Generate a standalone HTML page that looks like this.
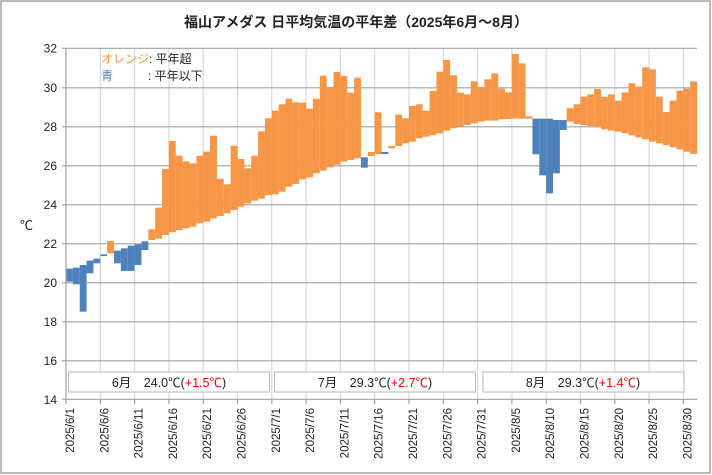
<!DOCTYPE html>
<html><head><meta charset="utf-8"><style>
html,body{margin:0;padding:0;background:#fff}
svg{display:block;font-family:"Liberation Sans","Noto Sans CJK JP",sans-serif}
</style></head><body>
<svg width="712" height="475" viewBox="0 0 712 475" xmlns="http://www.w3.org/2000/svg">
<rect x="1" y="1" width="709" height="472" fill="#fff" stroke="#8c8c8c" stroke-width="1.2"/>
<text x="356" y="27" text-anchor="middle" font-size="14" font-weight="bold" fill="#222">福山アメダス 日平均気温の平年差（2025年6月～8月）</text>
<g stroke="#d9d9d9" stroke-width="1.2">
<line x1="100.3" y1="48" x2="100.3" y2="399"/><line x1="134.6" y1="48" x2="134.6" y2="399"/><line x1="168.9" y1="48" x2="168.9" y2="399"/><line x1="203.2" y1="48" x2="203.2" y2="399"/><line x1="237.5" y1="48" x2="237.5" y2="399"/><line x1="271.8" y1="48" x2="271.8" y2="399"/><line x1="306.1" y1="48" x2="306.1" y2="399"/><line x1="340.4" y1="48" x2="340.4" y2="399"/><line x1="374.7" y1="48" x2="374.7" y2="399"/><line x1="409" y1="48" x2="409" y2="399"/><line x1="443.3" y1="48" x2="443.3" y2="399"/><line x1="477.6" y1="48" x2="477.6" y2="399"/><line x1="511.9" y1="48" x2="511.9" y2="399"/><line x1="546.2" y1="48" x2="546.2" y2="399"/><line x1="580.5" y1="48" x2="580.5" y2="399"/><line x1="614.8" y1="48" x2="614.8" y2="399"/><line x1="649.1" y1="48" x2="649.1" y2="399"/><line x1="683.4" y1="48" x2="683.4" y2="399"/>
</g>
<g stroke="#a0a0a0" stroke-width="1.2">
<line x1="62" y1="48.3" x2="697" y2="48.3"/><line x1="62" y1="87.8" x2="697" y2="87.8"/><line x1="62" y1="126.8" x2="697" y2="126.8"/><line x1="62" y1="165.8" x2="697" y2="165.8"/><line x1="62" y1="204.8" x2="697" y2="204.8"/><line x1="62" y1="243.8" x2="697" y2="243.8"/><line x1="62" y1="282.8" x2="697" y2="282.8"/><line x1="62" y1="321.8" x2="697" y2="321.8"/><line x1="62" y1="360.8" x2="697" y2="360.8"/>
</g>
<g transform="translate(66,40) scale(0.3333)">
<g fill="#4F81BD">
<rect x="0" y="686" width="20.6" height="39"/><rect x="20.58" y="683" width="20.6" height="50"/><rect x="41.16" y="675" width="20.6" height="140"/><rect x="61.74" y="662" width="20.6" height="38"/><rect x="82.32" y="656" width="20.6" height="14"/><rect x="102.9" y="643" width="20.6" height="5"/>
<rect x="144.06" y="632" width="20.6" height="38"/><rect x="164.64" y="625" width="20.6" height="68"/><rect x="185.22" y="617" width="20.6" height="76"/><rect x="205.8" y="613" width="20.6" height="62"/><rect x="226.38" y="604" width="20.6" height="26"/>
<rect x="884.94" y="352" width="20.6" height="31"/><rect x="946.68" y="336" width="20.6" height="6"/>
<rect x="1399.44" y="236" width="20.6" height="107"/><rect x="1420.02" y="236" width="20.6" height="170"/><rect x="1440.6" y="236" width="20.6" height="224"/><rect x="1461.18" y="240" width="20.6" height="160"/><rect x="1481.76" y="240" width="20.6" height="30"/>
</g>
<g fill="#F79646">
<rect x="123.48" y="603" width="20.6" height="37"/>
<rect x="246.96" y="568" width="20.6" height="32"/><rect x="267.54" y="503" width="20.6" height="93"/><rect x="288.12" y="387" width="20.6" height="198"/><rect x="308.7" y="303" width="20.6" height="274"/><rect x="329.28" y="347" width="20.6" height="223"/><rect x="349.86" y="364" width="20.6" height="201"/><rect x="370.44" y="370" width="20.6" height="190"/><rect x="391.02" y="347" width="20.6" height="203"/><rect x="411.6" y="335" width="20.6" height="210"/><rect x="432.18" y="287" width="20.6" height="248"/><rect x="452.76" y="416" width="20.6" height="112"/><rect x="473.34" y="433" width="20.6" height="87"/><rect x="493.92" y="317" width="20.6" height="193"/><rect x="514.5" y="357" width="20.6" height="143"/><rect x="535.08" y="385" width="20.6" height="105"/><rect x="555.66" y="347" width="20.6" height="135"/><rect x="576.24" y="274" width="20.6" height="202"/><rect x="596.82" y="235" width="20.6" height="231"/><rect x="617.4" y="212" width="20.6" height="251"/><rect x="637.98" y="193" width="20.6" height="262"/><rect x="658.56" y="176" width="20.6" height="264"/><rect x="679.14" y="187" width="20.6" height="245"/><rect x="699.72" y="188" width="20.6" height="230"/><rect x="720.3" y="206" width="20.6" height="206"/><rect x="740.88" y="176" width="20.6" height="224"/><rect x="761.46" y="107" width="20.6" height="285"/><rect x="782.04" y="141" width="20.6" height="241"/><rect x="802.62" y="96" width="20.6" height="278"/><rect x="823.2" y="108" width="20.6" height="257"/><rect x="843.78" y="158" width="20.6" height="202"/><rect x="864.36" y="113" width="20.6" height="242"/>
<rect x="905.52" y="336" width="20.6" height="12"/><rect x="926.1" y="217" width="20.6" height="125"/><rect x="967.26" y="318" width="20.6" height="7"/><rect x="987.84" y="224" width="20.6" height="94"/><rect x="1008.42" y="235" width="20.6" height="75"/><rect x="1029" y="198" width="20.6" height="107"/><rect x="1049.58" y="193" width="20.6" height="102"/><rect x="1070.16" y="212" width="20.6" height="78"/><rect x="1090.74" y="153" width="20.6" height="132"/><rect x="1111.32" y="95" width="20.6" height="185"/><rect x="1131.9" y="60" width="20.6" height="212"/><rect x="1152.48" y="106" width="20.6" height="159"/><rect x="1173.06" y="158" width="20.6" height="102"/><rect x="1193.64" y="163" width="20.6" height="92"/><rect x="1214.22" y="124" width="20.6" height="126"/><rect x="1234.8" y="141" width="20.6" height="104"/><rect x="1255.38" y="118" width="20.6" height="124"/><rect x="1275.96" y="100" width="20.6" height="142"/><rect x="1296.54" y="146" width="20.6" height="92"/><rect x="1317.12" y="157" width="20.6" height="80"/><rect x="1337.7" y="42" width="20.6" height="194"/><rect x="1358.28" y="70" width="20.6" height="166"/><rect x="1378.86" y="229" width="20.6" height="7"/>
<rect x="1502.34" y="205" width="20.6" height="40"/><rect x="1522.92" y="193" width="20.6" height="59"/><rect x="1543.5" y="170" width="20.6" height="85"/><rect x="1564.08" y="163" width="20.6" height="95"/><rect x="1584.66" y="147" width="20.6" height="115"/><rect x="1605.24" y="170" width="20.6" height="98"/><rect x="1625.82" y="163" width="20.6" height="109"/><rect x="1646.4" y="182" width="20.6" height="93"/><rect x="1666.98" y="157" width="20.6" height="123"/><rect x="1687.56" y="130" width="20.6" height="156"/><rect x="1708.14" y="140" width="20.6" height="152"/><rect x="1728.72" y="82" width="20.6" height="216"/><rect x="1749.3" y="88" width="20.6" height="217"/><rect x="1769.88" y="170" width="20.6" height="140"/><rect x="1790.46" y="216" width="20.6" height="99"/><rect x="1811.04" y="182" width="20.6" height="140"/><rect x="1831.62" y="152" width="20.6" height="176"/><rect x="1852.2" y="146" width="20.6" height="189"/><rect x="1872.78" y="124" width="20.6" height="218"/>
</g>
</g>
<g stroke="#a0a0a0" stroke-width="1.2">
<line x1="66" y1="48" x2="66" y2="399.3"/>
<line x1="62" y1="399.3" x2="697" y2="399.3"/>
<line x1="66" y1="399" x2="66" y2="404"/><line x1="100.3" y1="399" x2="100.3" y2="404"/><line x1="134.6" y1="399" x2="134.6" y2="404"/><line x1="168.9" y1="399" x2="168.9" y2="404"/><line x1="203.2" y1="399" x2="203.2" y2="404"/><line x1="237.5" y1="399" x2="237.5" y2="404"/><line x1="271.8" y1="399" x2="271.8" y2="404"/><line x1="306.1" y1="399" x2="306.1" y2="404"/><line x1="340.4" y1="399" x2="340.4" y2="404"/><line x1="374.7" y1="399" x2="374.7" y2="404"/><line x1="409" y1="399" x2="409" y2="404"/><line x1="443.3" y1="399" x2="443.3" y2="404"/><line x1="477.6" y1="399" x2="477.6" y2="404"/><line x1="511.9" y1="399" x2="511.9" y2="404"/><line x1="546.2" y1="399" x2="546.2" y2="404"/><line x1="580.5" y1="399" x2="580.5" y2="404"/><line x1="614.8" y1="399" x2="614.8" y2="404"/><line x1="649.1" y1="399" x2="649.1" y2="404"/><line x1="683.4" y1="399" x2="683.4" y2="404"/>
</g>
<g font-size="12" fill="#222" text-anchor="end">
<text x="57" y="52.5">32</text><text x="57" y="92">30</text><text x="57" y="131">28</text><text x="57" y="170">26</text><text x="57" y="209">24</text><text x="57" y="248">22</text><text x="57" y="287">20</text><text x="57" y="326">18</text><text x="57" y="365">16</text><text x="57" y="404">14</text>
</g>
<text x="20" y="230" font-size="13" fill="#222">℃</text>
<text x="101" y="63" font-size="12" fill="#F79646">オレンジ<tspan fill="#222">: 平年超</tspan></text>
<text x="101" y="80" font-size="12" fill="#4F81BD">青<tspan x="148" fill="#222">: 平年以下</tspan></text>
<g fill="#fff" stroke="#c0c0c0" stroke-width="1.2">
<rect x="68.5" y="372" width="201" height="20"/><rect x="274.5" y="372" width="201" height="20"/><rect x="483" y="372" width="201" height="20"/>
</g>
<g font-size="12.5" fill="#222" text-anchor="middle">
<text x="169" y="387">6月　24.0℃(<tspan fill="#f00">+1.5℃</tspan>)</text>
<text x="375" y="387">7月　29.3℃(<tspan fill="#f00">+2.7℃</tspan>)</text>
<text x="583" y="387">8月　29.3℃(<tspan fill="#f00">+1.4℃</tspan>)</text>
</g>
<g font-size="11.5" fill="#222" text-anchor="end">
<text transform="translate(74,408) rotate(-90)">2025/6/1</text>
<text transform="translate(108.3,408) rotate(-90)">2025/6/6</text>
<text transform="translate(142.6,408) rotate(-90)">2025/6/11</text>
<text transform="translate(176.9,408) rotate(-90)">2025/6/16</text>
<text transform="translate(211.2,408) rotate(-90)">2025/6/21</text>
<text transform="translate(245.5,408) rotate(-90)">2025/6/26</text>
<text transform="translate(279.8,408) rotate(-90)">2025/7/1</text>
<text transform="translate(314.1,408) rotate(-90)">2025/7/6</text>
<text transform="translate(348.4,408) rotate(-90)">2025/7/11</text>
<text transform="translate(382.7,408) rotate(-90)">2025/7/16</text>
<text transform="translate(417,408) rotate(-90)">2025/7/21</text>
<text transform="translate(451.3,408) rotate(-90)">2025/7/26</text>
<text transform="translate(485.6,408) rotate(-90)">2025/7/31</text>
<text transform="translate(519.9,408) rotate(-90)">2025/8/5</text>
<text transform="translate(554.2,408) rotate(-90)">2025/8/10</text>
<text transform="translate(588.5,408) rotate(-90)">2025/8/15</text>
<text transform="translate(622.8,408) rotate(-90)">2025/8/20</text>
<text transform="translate(657.1,408) rotate(-90)">2025/8/25</text>
<text transform="translate(691.4,408) rotate(-90)">2025/8/30</text>
</g>
</svg>
</body></html>
